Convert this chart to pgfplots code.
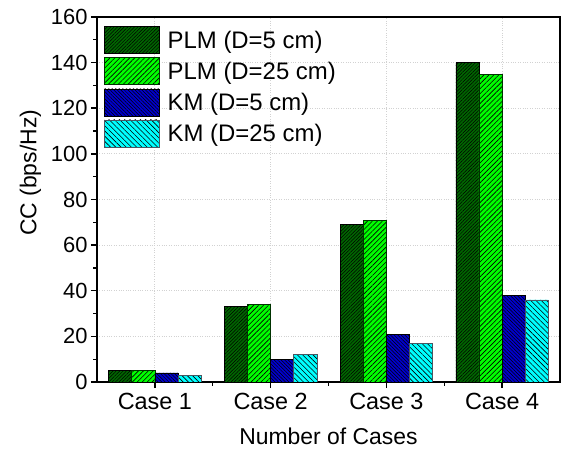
\documentclass[border=0pt]{standalone}
\usepackage{fontspec}
\setmainfont{Liberation Sans}
\usepackage{pgfplots}
\pgfplotsset{compat=1.18}
\usetikzlibrary{patterns.meta}

\definecolor{dkgreen}{RGB}{0,102,0}
\definecolor{ltgreen}{RGB}{0,255,0}
\definecolor{kmblue}{RGB}{0,0,204}
\definecolor{kmcyan}{RGB}{0,255,255}

\begin{document}
\begin{tikzpicture}
\path[use as bounding box] (0,0) rectangle (563bp,450bp);
\begin{axis}[
  at={(97bp,68bp)}, anchor=south west,
  scale only axis, width=463bp, height=365bp,
  ybar=0pt, bar width=0.2,
  xmin=0.5, xmax=4.5, ymin=0, ymax=160,
  xtick={1,2,3,4}, xticklabels={Case 1,Case 2,Case 3,Case 4},
  minor xtick={1.5,2.5,3.5},
  ytick={0,20,...,160}, minor ytick={10,30,...,150},
  tick align=outside, tick pos=left,
  major tick length=6bp, minor tick length=3.5bp,
  major tick style={black, line width=1.5bp},
  minor tick style={black, line width=1.2bp},
  axis line style={line width=2.5bp},
  grid=major, major grid style={dotted, gray!35, line width=0.9bp},
  ticklabel style={font=\fontsize{22}{26}\selectfont},
  xticklabel style={font=\fontsize{23.5}{27}\selectfont, yshift=-2bp},
  /pgf/number format/assume math mode=true,
  xlabel={Number of Cases}, ylabel={CC (bps/Hz)},
  label style={font=\fontsize{23}{27}\selectfont},
  xlabel style={yshift=-11bp},
  ylabel style={at={(ticklabel cs:0.573,3bp)}},
  legend style={at={(0.015,0.975)}, anchor=north west, draw=none, fill=none,
    inner sep=0pt, font=\fontsize{24}{27}\selectfont, row sep=3.5bp,
    cells={anchor=west}},
  legend image code/.code={\draw[#1] (0bp,-13.5bp) rectangle (55bp,13.5bp); \path (61bp,0bp);},
]
\addplot[fill=dkgreen, draw=black, line width=0.6bp,
  postaction={pattern={Lines[angle=45,distance=2.4bp,line width=0.5bp]}, pattern color=black}]
  coordinates {(1,5) (2,33) (3,69) (4,140)};
\addplot[fill=ltgreen, draw=black!80!green, line width=0.6bp,
  postaction={pattern={Lines[angle=45,distance=3.5bp,line width=0.6bp]}, pattern color=black}]
  coordinates {(1,5) (2,34) (3,71) (4,135)};
\addplot[fill=kmblue, draw=black, line width=0.6bp,
  postaction={pattern={Lines[angle=-45,distance=2.5bp,line width=0.5bp]}, pattern color=black}]
  coordinates {(1,4) (2,10) (3,21) (4,38)};
\addplot[fill=kmcyan, draw=black!70!cyan, line width=0.6bp,
  postaction={pattern={Lines[angle=-45,distance=3.7bp,line width=0.6bp]}, pattern color=black}]
  coordinates {(1,3) (2,12) (3,17) (4,36)};
\legend{PLM (D=5 cm), PLM (D=25 cm), KM (D=5 cm), KM (D=25 cm)}
\end{axis}
\end{tikzpicture}
\end{document}
